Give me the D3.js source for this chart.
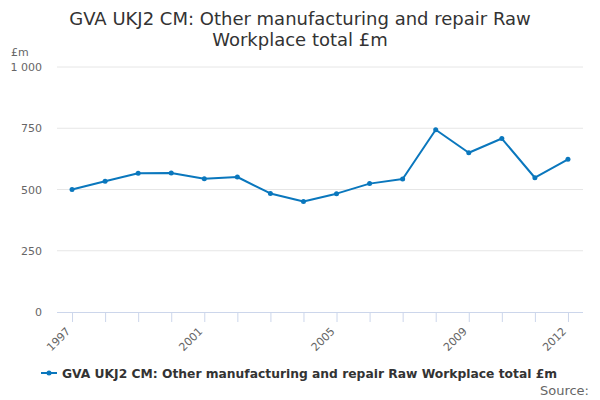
<!DOCTYPE html>
<html>
<head>
<meta charset="utf-8">
<script src="https://cdn.jsdelivr.net/npm/d3@7"></script>
<style>
  body { margin: 0; background: #fff; }
  svg { font-family: "DejaVu Sans", sans-serif; }
</style>
</head>
<body>
<div id="chart"></div>
<script>
// Data
const years = [1997, 1998, 1999, 2000, 2001, 2002, 2003, 2004, 2005, 2006, 2007, 2008, 2009, 2010, 2011, 2012];
const gvaValues = [500, 534, 566, 567, 544, 551, 484, 451, 483, 524, 543, 744, 650, 708, 548, 623];
const yTicks = [0, 250, 500, 750, 1000];
const xLabelYears = [1997, 2001, 2005, 2009, 2012];

const seriesName = "GVA UKJ2 CM: Other manufacturing and repair Raw Workplace total £m";
const titleLines = ["GVA UKJ2 CM: Other manufacturing and repair Raw", "Workplace total £m"];

const width = 600;
const height = 400;
const margin = { top: 67, right: 17, bottom: 88, left: 57 };
const lineColor = "#0a77bd";

const svg = d3.select("#chart")
  .append("svg")
  .attr("width", width)
  .attr("height", height);

// Title
svg.append("text")
  .attr("x", width / 2)
  .attr("y", 25)
  .attr("text-anchor", "middle")
  .style("font-size", "18px")
  .style("fill", "#333")
  .selectAll("tspan")
  .data(titleLines)
  .join("tspan")
  .attr("x", width / 2)
  .attr("dy", (d, i) => (i === 0 ? 0 : 21))
  .text(d => d);

const xScale = d3.scaleLinear()
  .domain([1996.545, 2012.455])
  .range([margin.left, width - margin.right]);

const yScale = d3.scaleLinear()
  .domain([0, 1000])
  .range([height - margin.bottom, margin.top]);

// Gridlines
svg.append("g")
  .selectAll("line")
  .data(yTicks.filter(d => d > 0))
  .join("line")
  .attr("x1", margin.left)
  .attr("x2", width - margin.right)
  .attr("y1", d => yScale(d))
  .attr("y2", d => yScale(d))
  .attr("stroke", "#e6e6e6")
  .attr("stroke-width", 1);

// Y axis labels
svg.append("g")
  .selectAll("text")
  .data(yTicks)
  .join("text")
  .attr("x", 42)
  .attr("y", d => yScale(d) + 4)
  .attr("text-anchor", "end")
  .style("font-size", "11px")
  .style("fill", "#666")
  .text(d => d3.format(",")(d).replace(",", " "));

svg.append("text")
  .attr("x", 11)
  .attr("y", 56)
  .style("font-size", "11px")
  .style("fill", "#666")
  .text("£m");

// X axis
const xAxis = svg.append("g")
  .attr("transform", `translate(0,${height - margin.bottom})`)
  .call(d3.axisBottom(xScale).tickValues(years).tickSize(10).tickFormat(""));
xAxis.select(".domain")
  .attr("d", `M${margin.left},0.5H${width - margin.right}`)
  .attr("stroke", "#ccd6eb");
xAxis.selectAll(".tick line").attr("stroke", "#ccd6eb");

svg.append("g")
  .selectAll("text")
  .data(xLabelYears)
  .join("text")
  .attr("transform", d => `translate(${xScale(d) - 1},${height - margin.bottom + 20}) rotate(-45)`)
  .attr("text-anchor", "end")
  .style("font-size", "11px")
  .style("fill", "#666")
  .text(d => d);

// Line
const points = years.map((y, i) => ({ year: y, value: gvaValues[i] }));
const line = d3.line()
  .x(d => xScale(d.year))
  .y(d => yScale(d.value));

svg.append("path")
  .datum(points)
  .attr("fill", "none")
  .attr("stroke", lineColor)
  .attr("stroke-width", 2)
  .attr("stroke-linejoin", "round")
  .attr("d", line);

svg.append("g")
  .selectAll("circle")
  .data(points)
  .join("circle")
  .attr("cx", d => xScale(d.year))
  .attr("cy", d => yScale(d.value))
  .attr("r", 2.5)
  .attr("fill", lineColor);

// Legend
const legend = svg.append("g").attr("transform", "translate(41,373)");
legend.append("line")
  .attr("x1", 0).attr("x2", 16)
  .attr("stroke", lineColor)
  .attr("stroke-width", 2);
legend.append("circle")
  .attr("cx", 8).attr("r", 2.5)
  .attr("fill", lineColor);
legend.append("text")
  .attr("x", 21)
  .attr("y", 5)
  .style("font-size", "12.3px")
  .style("font-weight", "bold")
  .style("fill", "#333")
  .text(seriesName);

svg.append("text")
  .attr("x", 589)
  .attr("y", 395)
  .attr("text-anchor", "end")
  .style("font-size", "13px")
  .style("fill", "#666")
  .text("Source:");
</script>
</body>
</html>
